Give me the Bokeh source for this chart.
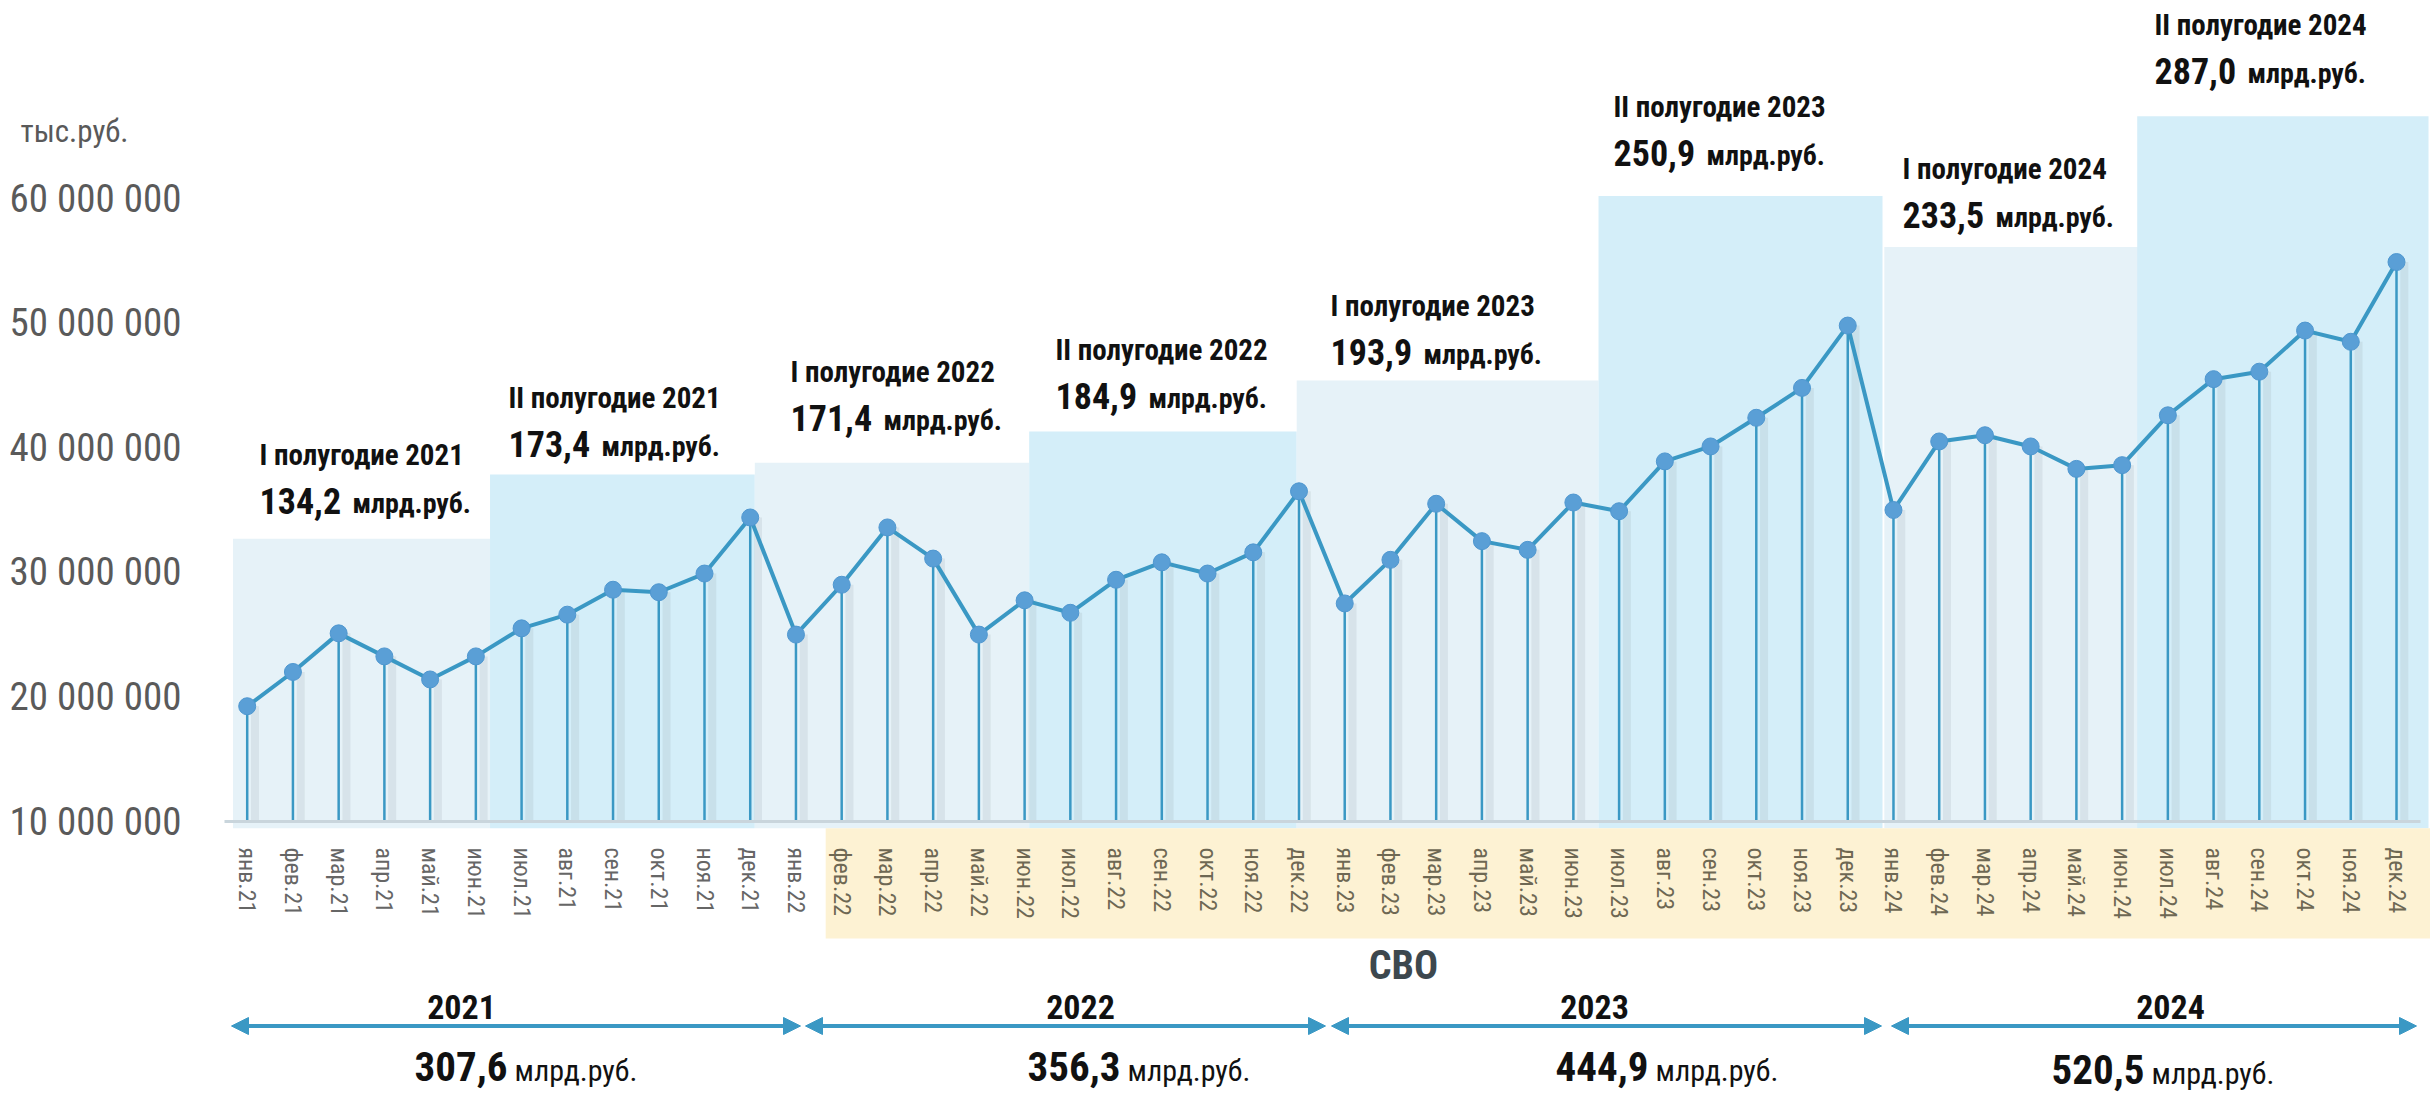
from bokeh.plotting import figure
from bokeh.models import ColumnDataSource, Range1d, FixedTicker, LinearAxis, Arrow, NormalHead
from bokeh.transform import dodge
from bokeh.core.properties import value
from bokeh.embed import file_html
from bokeh.resources import INLINE

# ---------------- data ----------------
months = ["янв.21", "фев.21", "мар.21", "апр.21", "май.21", "июн.21",
          "июл.21", "авг.21", "сен.21", "окт.21", "ноя.21", "дек.21",
          "янв.22", "фев.22", "мар.22", "апр.22", "май.22", "июн.22",
          "июл.22", "авг.22", "сен.22", "окт.22", "ноя.22", "дек.22",
          "янв.23", "фев.23", "мар.23", "апр.23", "май.23", "июн.23",
          "июл.23", "авг.23", "сен.23", "окт.23", "ноя.23", "дек.23",
          "янв.24", "фев.24", "мар.24", "апр.24", "май.24", "июн.24",
          "июл.24", "авг.24", "сен.24", "окт.24", "ноя.24", "дек.24"]
# тыс. руб.
values = [19_250_000, 22_000_000, 25_100_000, 23_250_000, 21_400_000, 23_250_000,
          25_500_000, 26_600_000, 28_600_000, 28_400_000, 29_900_000, 34_400_000,
          25_000_000, 29_000_000, 33_600_000, 31_100_000, 25_000_000, 27_750_000,
          26_750_000, 29_400_000, 30_800_000, 29_900_000, 31_600_000, 36_500_000,
          27_500_000, 31_000_000, 35_500_000, 32_500_000, 31_800_000, 35_600_000,
          34_900_000, 38_900_000, 40_100_000, 42_400_000, 44_800_000, 49_800_000,
          35_000_000, 40_500_000, 41_000_000, 40_100_000, 38_300_000, 38_600_000,
          42_600_000, 45_500_000, 46_100_000, 49_400_000, 48_500_000, 54_900_000]

half_titles = ["I полугодие 2021", "II полугодие 2021", "I полугодие 2022", "II полугодие 2022",
               "I полугодие 2023", "II полугодие 2023", "I полугодие 2024", "II полугодие 2024"]
half_totals = ["134,2", "173,4", "171,4", "184,9", "193,9", "250,9", "233,5", "287,0"]
half_band_tops = [32_700_000, 37_850_000, 38_800_000, 41_300_000,
                  45_400_000, 60_200_000, 56_100_000, 66_600_000]

years = ["2021", "2022", "2023", "2024"]
year_totals = ["307,6", "356,3", "444,9", "520,5"]
unit_label = "млрд.руб."
y_ticks = [10_000_000, 20_000_000, 30_000_000, 40_000_000, 50_000_000, 60_000_000]
y_tick_labels = ["10 000 000", "20 000 000", "30 000 000", "40 000 000", "50 000 000", "60 000 000"]
y_unit = "тыс.руб."
svo_label = "СВО"
svo_first_month = "фев.22"

# ---------------- layout (reference pixel geometry) ----------------
W, H = 2430, 1094
X0_REF, DX_REF = 246.7, 45.73      # x pixel of first month, pixels per month
Y10_REF, PX_PER_M = 821.0, 12.46   # y pixel of 10 000 000, pixels per 1 000 000


def rx(px):
    return (px - X0_REF) / DX_REF


def ry(py):
    return (10.0 + (Y10_REF - py) / PX_PER_M) * 1e6


band_left = [-0.31, 5.31, 11.10, 17.10, 22.95, 29.55, 35.80, 41.33]
band_right = [5.31, 11.10, 17.10, 22.95, 29.55, 35.76, 41.47, 47.70]
band_colors = ["#e6f2f8", "#d4eef9"] * 4
label_x_ref = [259, 508, 790, 1055, 1330, 1613, 1902, 2154]
label_y_ref = [454, 397, 371, 349, 305, 106, 168, 24]
arrow_ref = [(231, 800), (805, 1325), (1331, 1881), (1891, 2416)]
year_label_x_ref = [461, 1080, 1594, 2170]
year_total_x_ref = [414, 1027, 1555, 2051]
year_total_y_ref = [1066, 1066, 1066, 1069]

FONT_AX = "'Roboto Condensed', 'Liberation Sans Narrow', 'DejaVu Sans Condensed', Roboto, sans-serif"
FONT_B = "'Liberation Sans Narrow', 'Roboto Condensed', 'DejaVu Sans Condensed', Roboto, sans-serif"
LINE_C = "#3a98c4"
MARK_C = "#5a9fd6"

HALF_T, HALF_N, HALF_U = 29, 36, 28
YEAR_L, YEAR_N, YEAR_U = 34, 41, 30

p = figure(width=W, height=H,
           x_range=Range1d(rx(0), rx(W)), y_range=Range1d(ry(H), ry(0)),
           output_backend="svg", toolbar_location=None, min_border=0)
p.outline_line_color = None
p.grid.visible = False
p.background_fill_color = "white"
p.border_fill_color = "white"

# half-year bands
p.quad(left=band_left, right=band_right, bottom=ry(827.7), top=half_band_tops,
       fill_color=band_colors, line_color=None)

# СВО band under month labels
svo_idx = months.index(svo_first_month)
p.quad(left=[svo_idx - 0.35], right=[rx(2440)], bottom=[ry(938)], top=[ry(827.7)],
       fill_color="#fdf2d3", line_color=None)

xs = list(range(len(months)))
src = ColumnDataSource(dict(x=xs, v=values))

# stem shadows, stems, line, markers
p.segment(x0=dodge("x", 0.17), y0=10_000_000, x1=dodge("x", 0.17), y1="v", source=src,
          line_color="#7f8d96", line_alpha=0.14, line_width=8)
p.segment(x0="x", y0=10_000_000, x1="x", y1="v", source=src, line_color=LINE_C, line_width=2.5)
p.line("x", "v", source=src, line_color=LINE_C, line_width=4)
p.scatter("x", "v", source=src, size=17, fill_color=MARK_C, line_color="#4f97d0", line_width=1)

# half-year labels
hsrc = ColumnDataSource(dict(
    x=[rx(v) for v in label_x_ref],
    y1=[ry(v) for v in label_y_ref],
    y2=[ry(v + 46) for v in label_y_ref],
    y3=[ry(v + 46 + 0.35 * (HALF_N - HALF_U)) for v in label_y_ref],
    title=half_titles, total=half_totals, unit=[unit_label] * len(half_titles)))
p.text(x="x", y="y1", text="title", source=hsrc, text_font=value(FONT_B), text_font_style="bold",
       text_font_size=f"{HALF_T}px", text_color="#111111", text_align="left", text_baseline="middle")
p.text(x="x", y="y2", text="total", source=hsrc, text_font=value(FONT_B), text_font_style="bold",
       text_font_size=f"{HALF_N}px", text_color="#111111", text_align="left", text_baseline="middle")
p.text(x="x", y="y3", text="unit", source=hsrc, x_offset=93, text_font=value(FONT_B),
       text_font_style="bold", text_font_size=f"{HALF_U}px", text_color="#111111",
       text_align="left", text_baseline="middle")

# year arrows and totals
for i, (a0, a1) in enumerate(arrow_ref):
    p.add_layout(Arrow(x_start=rx(a0), y_start=ry(1025.5), x_end=rx(a1), y_end=ry(1025.5),
                       start=NormalHead(size=17, fill_color=LINE_C, line_color=LINE_C),
                       end=NormalHead(size=17, fill_color=LINE_C, line_color=LINE_C),
                       line_color=LINE_C, line_width=4))
ysrc = ColumnDataSource(dict(
    xl=[rx(v) for v in year_label_x_ref], yl=[ry(1006)] * 4, year=years,
    xt=[rx(v) for v in year_total_x_ref], yt=[ry(v) for v in year_total_y_ref],
    yu=[ry(v + 0.35 * (YEAR_N - YEAR_U)) for v in year_total_y_ref],
    total=year_totals, unit=[unit_label] * 4))
p.text(x="xl", y="yl", text="year", source=ysrc, text_font=value(FONT_B), text_font_style="bold",
       text_font_size=f"{YEAR_L}px", text_color="#111111", text_align="center", text_baseline="middle")
p.text(x="xt", y="yt", text="total", source=ysrc, text_font=value(FONT_B), text_font_style="bold",
       text_font_size=f"{YEAR_N}px", text_color="#111111", text_align="left", text_baseline="middle")
p.text(x="xt", y="yu", text="unit", source=ysrc, x_offset=100, text_font=value(FONT_B),
       text_font_style="normal", text_font_size=f"{YEAR_U}px", text_color="#111111",
       text_align="left", text_baseline="middle")

# СВО and unit captions
p.text(x=[rx(1403)], y=[ry(965)], text=[svo_label], text_font=value(FONT_B), text_font_style="bold",
       text_font_size="40px", text_color="#3d484e", text_align="center", text_baseline="middle")
p.text(x=[rx(20)], y=[ry(131)], text=[y_unit], text_font=value(FONT_AX),
       text_font_size="31px", text_color="#595959", text_align="left", text_baseline="middle")

# y axis
yax = p.yaxis[0]
yax.fixed_location = rx(200)
yax.ticker = FixedTicker(ticks=y_ticks)
yax.major_label_overrides = {t: s for t, s in zip(y_ticks, y_tick_labels)}
yax.axis_line_color = None
yax.major_tick_in = yax.major_tick_out = yax.minor_tick_in = yax.minor_tick_out = 0
yax.major_label_standoff = 19
yax.major_label_text_font = FONT_AX
yax.major_label_text_font_size = "39px"
yax.major_label_text_color = "#5a5a5a"


# x axes: pre-СВО months (grey) and СВО months (olive)
def style_xaxis(ax, ticks, color):
    ax.fixed_location = 10_000_000
    ax.ticker = FixedTicker(ticks=ticks)
    ax.major_label_overrides = {i: months[i] for i in ticks}
    ax.major_tick_in = ax.major_tick_out = ax.minor_tick_in = ax.minor_tick_out = 0
    ax.major_label_orientation = "vertical"
    ax.major_label_standoff = 26
    ax.major_label_text_font = FONT_AX
    ax.major_label_text_font_size = "24px"
    ax.major_label_text_color = color


xax1 = p.xaxis[0]
style_xaxis(xax1, list(range(0, svo_idx)), "#666666")
xax1.axis_line_color = "#c9d5dc"
xax1.axis_line_width = 3
xax1.bounds = (rx(224), rx(2420))
xax2 = LinearAxis()
style_xaxis(xax2, list(range(svo_idx, len(months))), "#6e6853")
xax2.axis_line_color = None
p.add_layout(xax2, "below")

open("out.html", "w").write(file_html(p, INLINE))
